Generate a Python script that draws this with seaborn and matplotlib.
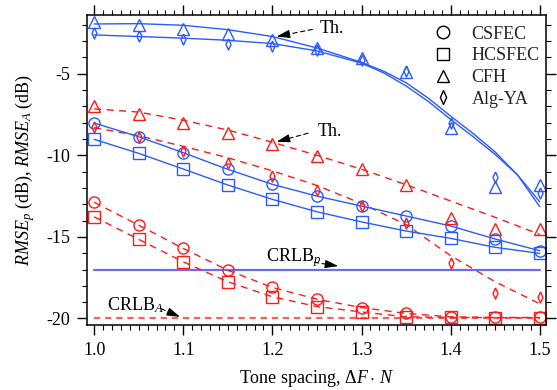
import numpy as np
import pandas as pd
import matplotlib
matplotlib.use("Agg")
import matplotlib.pyplot as plt
from matplotlib.lines import Line2D
from matplotlib.ticker import MultipleLocator
import seaborn as sns

# ---------------- data ----------------
x = [1.0, 1.05, 1.1, 1.15, 1.2, 1.25, 1.3, 1.35, 1.4, 1.45, 1.5]

# RMSE_p (blue)
blue_csfec = [-8.02, -8.86, -9.84, -10.86, -11.78, -12.5, -13.11, -13.72, -14.33, -15.13, -15.85]
blue_hcsfec = [-9.02, -9.88, -10.84, -11.82, -12.7, -13.46, -14.08, -14.64, -15.09, -15.64, -16.01]
blue_cfh = [-1.8, -2.0, -2.25, -2.55, -2.93, -3.44, -4.05, -4.87, -8.3, -11.95, -11.82]
blue_alg = [-2.52, -2.66, -2.86, -3.15, -3.32, -3.52, -4.15, -4.85, -8.03, -11.3, -12.33]

x_th = [1.0, 1.05, 1.1, 1.15, 1.2, 1.25, 1.3, 1.325, 1.35, 1.375, 1.4, 1.425, 1.45, 1.475, 1.5]
blue_cfh_th = [-1.95, -1.93, -2.03, -2.3, -2.72, -3.42, -4.3, -4.85, -5.55, -6.5, -7.6, -8.65,
               -9.8, -11.2, -13.15]
blue_alg_th = [-2.62, -2.72, -2.82, -2.95, -3.15, -3.6, -4.35, -4.95, -5.75, -6.7, -7.8, -8.85,
               -9.95, -11.2, -12.85]

# RMSE_A (red)
red_csfec = [-12.88, -14.28, -15.71, -17.04, -18.1, -18.82, -19.33, -19.69, -19.9, -19.94, -19.94]
red_hcsfec = [-13.77, -15.15, -16.53, -17.75, -18.67, -19.27, -19.6, -19.9, -19.94, -19.95, -19.95]
red_cfh = [-6.98, -7.47, -8.0, -8.61, -9.31, -10.04, -10.86, -11.82, -13.82, -14.54, -14.54]
red_alg = [-8.24, -8.86, -9.72, -10.45, -11.27, -12.13, -13.11, -14.14, -16.62, -18.43, -18.67]
red_cfh_th = [-7.15, -7.35, -7.85, -8.45, -9.2, -10.0, -10.85, -11.8, -12.8, -13.8, -14.85]
red_alg_th = [-8.3, -8.8, -9.45, -10.15, -10.95, -11.85, -12.95, -14.25, -16.15, -17.75, -19.1]

crlb_x = [1.0, 1.5]
crlb_p = [-17.0, -17.0]
crlb_a = [-20.0, -20.0]

legend_labels = ["CSFEC", "HCSFEC", "CFH", "Alg-YA"]

# ---------------- style ----------------
sns.set_style("ticks")
plt.rcParams["font.family"] = ["Liberation Serif", "DejaVu Serif"]
plt.rcParams["mathtext.fontset"] = "custom"
plt.rcParams["mathtext.rm"] = "Liberation Serif"
plt.rcParams["mathtext.it"] = "Liberation Serif:italic"
plt.rcParams["mathtext.bf"] = "Liberation Serif:bold"

BLUE = "#2a5bff"
RED = "#ff1a1a"
CRLBP = "#6b6bf2"
CRLBA = "#ff5c5c"
FS = 13

THIN_D = [(0, 1), (0.45, 0), (0, -1), (-0.45, 0), (0, 1)]

fig = plt.figure(figsize=(5.57, 3.90), dpi=100)
ax = fig.add_axes([87 / 557, 1 - 325 / 390, 459 / 557, 310 / 390])

mk = dict(markerfacecolor="none", markeredgewidth=1.0)
dash = (0, (5, 4))

# CRLB lines
sns.lineplot(x=crlb_x, y=crlb_p, ax=ax, color=CRLBP, lw=1.6, linestyle="-")
sns.lineplot(x=crlb_x, y=crlb_a, ax=ax, color=CRLBA, lw=1.6, linestyle=(0, (2.8, 2.2)))

# blue theory curves
sns.lineplot(x=x_th, y=blue_cfh_th, ax=ax, color=BLUE, lw=1.0)
sns.lineplot(x=x_th, y=blue_alg_th, ax=ax, color=BLUE, lw=1.0)
# red theory curves
sns.lineplot(x=x, y=red_cfh_th, ax=ax, color=RED, lw=1.0, linestyle=dash)
sns.lineplot(x=x, y=red_alg_th, ax=ax, color=RED, lw=1.0, linestyle=dash)

# blue series
sns.lineplot(x=x, y=blue_csfec, ax=ax, color=BLUE, lw=1.0, marker="o", markersize=8,
             markeredgecolor=BLUE, **mk)
sns.lineplot(x=x, y=blue_hcsfec, ax=ax, color=BLUE, lw=1.0, marker="s", markersize=8,
             markeredgecolor=BLUE, **mk)
sns.lineplot(x=x, y=blue_cfh, ax=ax, color=BLUE, linestyle="none", marker="^", markersize=8,
             markeredgecolor=BLUE, **mk)
sns.lineplot(x=x, y=blue_alg, ax=ax, color=BLUE, linestyle="none", marker=THIN_D, markersize=8,
             markeredgecolor=BLUE, **mk)

# red series
sns.lineplot(x=x, y=red_csfec, ax=ax, color=RED, lw=1.0, linestyle=dash, marker="o", markersize=8,
             markeredgecolor=RED, **mk)
sns.lineplot(x=x, y=red_hcsfec, ax=ax, color=RED, lw=1.0, linestyle=dash, marker="s", markersize=8,
             markeredgecolor=RED, **mk)
sns.lineplot(x=x, y=red_cfh, ax=ax, color=RED, linestyle="none", marker="^", markersize=8,
             markeredgecolor=RED, **mk)
sns.lineplot(x=x, y=red_alg, ax=ax, color=RED, linestyle="none", marker=THIN_D, markersize=8,
             markeredgecolor=RED, **mk)

# ---------------- axes ----------------
ax.set_xlim(0.992, 1.507)
ax.set_ylim(-20.4, -1.4)
ax.xaxis.set_major_locator(MultipleLocator(0.1))
ax.xaxis.set_minor_locator(MultipleLocator(0.01))
ax.yaxis.set_major_locator(MultipleLocator(5))
ax.yaxis.set_minor_locator(MultipleLocator(1))
ax.set_xticks([1.0, 1.1, 1.2, 1.3, 1.4, 1.5])
ax.set_xticklabels(["1.0", "1.1", "1.2", "1.3", "1.4", "1.5"])
ax.set_yticks([-5, -10, -15, -20])
ax.set_yticklabels(["-5", "-10", "-15", "-20"])
ax.tick_params(which="both", direction="out", top=True, right=True, color="k",
               labelsize=FS, labelcolor="k")
ax.tick_params(which="major", length=7, width=1.0, pad=5)
ax.tick_params(which="minor", length=3.5, width=0.8)
for s in ax.spines.values():
    s.set_color("k")
    s.set_linewidth(1.1)

ax.set_xlabel(r"Tone spacing, $\mathit{\Delta F}\cdot\,\mathit{N}$", fontsize=FS, color="k", labelpad=7)
ax.set_ylabel(r"$\mathit{RMSE}_p$ (dB), $\mathit{RMSE}_A$ (dB)", fontsize=FS, color="k", labelpad=7)

# ---------------- legend ----------------
handles = [Line2D([], [], color="k", marker=m, linestyle="none", markerfacecolor="none",
                  markersize=ms, markeredgewidth=1.0)
           for m, ms in zip(["o", "s", "^", THIN_D], [9, 9, 9, 10])]
ax.legend(handles, legend_labels, loc="upper left", bbox_to_anchor=(0.755, 0.966),
          frameon=False, fontsize=FS, handlelength=1.0, handletextpad=1.1,
          labelspacing=0.26, borderpad=0, borderaxespad=0)

# ---------------- annotations ----------------
def arrow(tail, head, frac=0.3):
    hx = head[0] - (head[0] - tail[0]) * frac
    hy = head[1] - (head[1] - tail[1]) * frac
    ax.annotate("", xy=(hx, hy), xytext=tail,
                arrowprops=dict(arrowstyle="-", color="k", lw=0.8, linestyle=(0, (4, 3))))
    ax.annotate("", xy=head, xytext=(hx, hy),
                arrowprops=dict(arrowstyle="-|>,head_length=0.8,head_width=0.25",
                                color="k", lw=0.8, shrinkA=0, shrinkB=0))

ax.text(1.2534, -2.25, "Th.", fontsize=FS, va="center", ha="left", color="k")
arrow((1.248, -2.25), (1.2048, -2.72))
ax.text(1.2511, -8.51, "Th.", fontsize=FS, va="center", ha="left", color="k")
arrow((1.243, -8.6), (1.2048, -9.17))
ax.text(1.1928, -16.25, r"CRLB$_p$", fontsize=FS, va="center", ha="left", color="k")
arrow((1.244, -16.53), (1.2739, -16.79))
ax.text(1.0146, -19.18, r"CRLB$_A$", fontsize=FS, va="center", ha="left", color="k")
arrow((1.0721, -19.33), (1.0964, -19.9))

fig.savefig("out.png", dpi=100)
